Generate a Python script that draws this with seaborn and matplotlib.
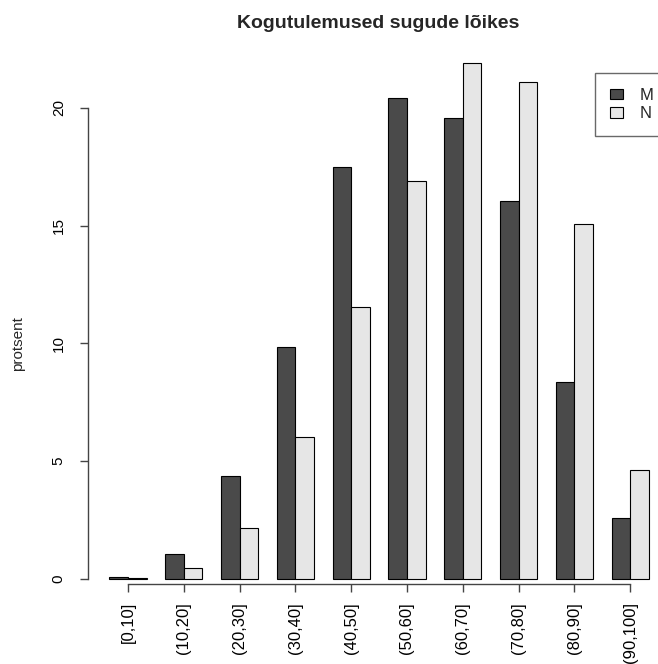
import pandas as pd
import seaborn as sns
from matplotlib import pyplot as plt
from matplotlib.patches import Patch

sns.set_theme(style="white")
plt.rcParams['font.family'] = ['Liberation Sans', 'DejaVu Sans']

# tulemuste vahemikud ja protsendid soo kaupa
vahemikud = ["[0,10]", "(10,20]", "(20,30]", "(30,40]", "(40,50]",
             "(50,60]", "(60,70]", "(70,80]", "(80,90]", "(90,100]"]
mehed = [0.08, 1.06, 4.38, 9.87, 17.49, 20.43, 19.57, 16.04, 8.38, 2.60]
naised = [0.04, 0.47, 2.17, 6.04, 11.53, 16.89, 21.91, 21.10, 15.06, 4.64]
sood = ["M", "N"]
y_ticks = [0, 5, 10, 15, 20]

colors = {"M": "#4a4a4a", "N": "#e6e6e6"}


def make_plot():
    rows = []
    for i, v in enumerate(vahemikud):
        rows.append((v, "M", mehed[i]))
        rows.append((v, "N", naised[i]))
    data = pd.DataFrame(rows, columns=["vahemik", "sugu", "protsent"])

    fig = plt.figure(figsize=(6.58, 6.64), dpi=100)
    ax = fig.add_axes([88 / 658, 1 - 584 / 664, (658 - 88) / 658, (584 - 42) / 664])

    sns.barplot(data=data, x="vahemik", y="protsent", hue="sugu", order=vahemikud,
                hue_order=sood, palette=colors, width=2 / 3, gap=0,
                edgecolor="black", linewidth=0.8, errorbar=None, legend=False, ax=ax)

    ax.set_xlim(-40 / 55.8, 530 / 55.8)
    ax.set_ylim(-5 / 23.55, 22.80)
    ax.set_yticks(y_ticks)
    ax.set_yticklabels([str(t) for t in y_ticks], rotation=90, va="center", fontsize=11)
    ax.set_xticks(range(len(vahemikud)))
    ax.set_xticklabels(vahemikud, rotation=90, fontsize=12)
    ax.set_xlabel("")
    ax.set_ylabel("")

    for side in ["top", "right"]:
        ax.spines[side].set_visible(False)
    ax.spines["left"].set_bounds(0, 20)
    ax.spines["bottom"].set_bounds(0, len(vahemikud) - 1)
    for side in ["left", "bottom"]:
        ax.spines[side].set_color("#444444")
        ax.spines[side].set_linewidth(1)
    ax.tick_params(axis="both", direction="out", length=6, width=1, color="#444444",
                   labelcolor="black")
    ax.tick_params(axis="y", pad=10, left=True)
    ax.tick_params(axis="x", pad=7, bottom=True)
    ax.grid(False)

    handles = [Patch(facecolor=colors[s], edgecolor="black", linewidth=0.8) for s in sood]
    leg = fig.legend(handles, sood, loc="upper left",
                     bbox_to_anchor=(595 / 658, 1 - 73 / 664), bbox_transform=fig.transFigure,
                     borderaxespad=0, fontsize=12, handlelength=0.8, handleheight=0.6,
                     handletextpad=1.0, labelspacing=0.2, borderpad=0.9,
                     fancybox=False, frameon=True)
    leg.get_frame().set_edgecolor("#444444")
    leg.get_frame().set_linewidth(1)

    fig.text(378 / 658, 1 - 23 / 664, "Kogutulemused sugude lõikes",
             ha="center", va="center", fontsize=14, fontweight="bold")
    fig.text(18 / 658, 1 - 344 / 664, "protsent", rotation=90,
             ha="center", va="center", fontsize=11)

    fig.savefig("out.png", dpi=100)


if __name__ == "__main__":
    make_plot()
